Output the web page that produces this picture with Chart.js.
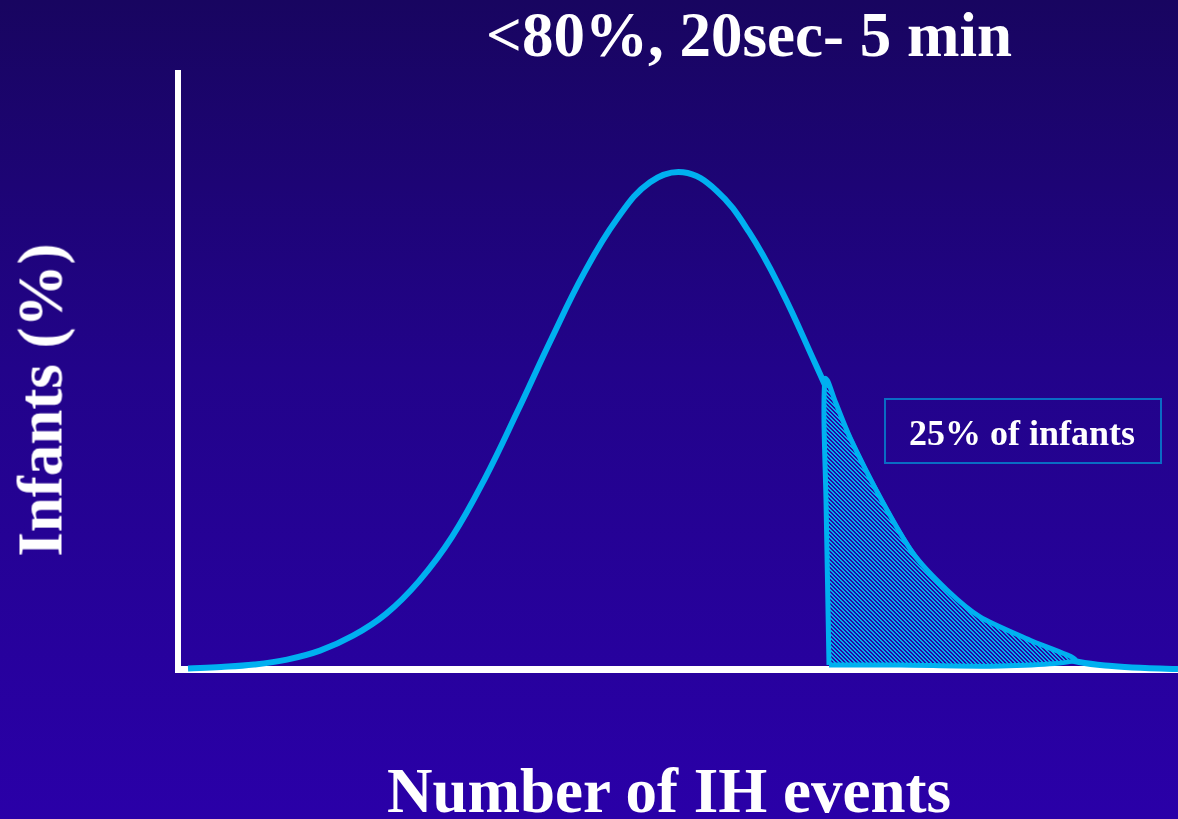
<!DOCTYPE html>
<html>
<head>
<meta charset="utf-8">
<title>IH events</title>
<script src="https://cdn.jsdelivr.net/npm/chart.js@4.4.1/dist/chart.umd.min.js"></script>
<style>
  html, body { margin: 0; padding: 0; }
  body {
    position: relative;
    width: 1178px;
    height: 819px;
    overflow: hidden;
    background: linear-gradient(to bottom, #180560 0%, #22038a 45%, #2a00a8 100%);
    font-family: "Liberation Serif", "Times New Roman", serif;
    font-weight: bold;
    color: #ffffff;
  }
  #chart { display: block; position: absolute; left: 0; top: 0; }
  .txt {
    position: absolute;
    line-height: 1;
    white-space: nowrap;
    transform: translateX(-50%);
  }
  #title { left: 749px; top: 4px; font-size: 63px; }
  #xlabel { left: 669px; top: 760px; font-size: 63px; }
  #ylabel { left: 41px; top: 400px; font-size: 63px; transform: translate(-50%, -50%) rotate(-90deg); }
  #box {
    position: absolute;
    left: 884px;
    top: 398px;
    width: 278px;
    height: 66px;
    box-sizing: border-box;
    border: 2px solid #0a6cc4;
  }
  #boxtext { left: 1022px; top: 415px; font-size: 36px; }
</style>
</head>
<body>
<canvas id="chart" width="1178" height="819"></canvas>
<div class="txt" id="title"></div>
<div class="txt" id="xlabel"></div>
<div class="txt" id="ylabel"></div>
<div id="box"></div>
<div class="txt" id="boxtext"></div>
<script>
// distribution of infants over number of IH events
const events = [1, 4.3, 7.6, 10.9, 14.2, 17.5, 20.8, 24.1, 27.4, 30.7, 34, 37.3, 40.6, 43.9, 47.2, 50.5, 53.8, 57.1, 60.4, 63.7, 67, 70.3, 73.6, 76.9, 80.2, 83.5, 86.8, 90.1, 93.4, 96.7, 100];
const infants = [0.01, 0.04, 0.09, 0.19, 0.37, 0.67, 1.11, 1.77, 2.66, 3.84, 5.21, 6.63, 7.97, 9.06, 9.8, 10.0, 9.64, 8.8, 7.6, 6.16, 4.7, 3.39, 2.28, 1.52, 0.93, 0.57, 0.32, 0.14, 0.06, 0.02, 0];

// outline of the shaded upper tail (closed loop)
const tailEvents = [65.1, 64.8, 64.6, 64.7, 65.0, 65.7, 67.2, 70.2, 73.5, 76.9, 80.2, 85.2, 89.7, 82.2, 72.2, 65.1];
const tailInfants = [0.08, 3.4, 5.0, 5.85, 5.79, 5.4, 4.66, 3.46, 2.33, 1.59, 1.05, 0.58, 0.18, 0.06, 0.08, 0.08];

const titleText = '<80%, 20sec- 5 min';
const xLabel = 'Number of IH events';
const yLabel = 'Infants (%)';
const boxText = '25% of infants';

document.getElementById('title').textContent = titleText;
document.getElementById('xlabel').textContent = xLabel;
document.getElementById('ylabel').textContent = yLabel;
document.getElementById('boxtext').textContent = boxText;

const cyan = '#00b0f0';

function toPoints(xs, ys) {
    return xs.map((x, i) => ({ x: x, y: ys[i] }));
}

// diagonal hatch used for the tail area
function hatch() {
    const c = document.createElement('canvas');
    c.width = 4;
    c.height = 4;
    const g = c.getContext('2d');
    g.fillStyle = '#2a06a6';
    g.fillRect(0, 0, 4, 4);
    g.fillStyle = cyan;
    for (let i = 0; i < 4; i++) {
        g.fillRect(i, i, 1, 1);
        g.fillRect((i + 1) % 4, i, 1, 1);
    }
    return g.createPattern(c, 'repeat');
}

new Chart('chart', {
    type: 'line',
    data: {
        datasets: [{
            label: 'tail',
            data: toPoints(tailEvents, tailInfants),
            borderColor: cyan,
            borderWidth: 5,
            backgroundColor: hatch(),
            fill: 'shape',
            tension: 0.25,
            pointRadius: 0,
            clip: false
        }, {
            label: 'infants',
            data: toPoints(events, infants),
            borderColor: cyan,
            borderWidth: 6,
            fill: false,
            tension: 0.4,
            pointRadius: 0,
            clip: false
        }]
    },
    options: {
        responsive: false,
        animation: false,
        layout: {
            padding: { left: 178, top: 73, right: 0, bottom: 150 }
        },
        plugins: {
            legend: { display: false },
            tooltip: { enabled: false }
        },
        scales: {
            x: {
                type: 'linear',
                min: 0,
                max: 100,
                z: 1,
                ticks: { display: false },
                grid: { display: false, drawTicks: false },
                border: { display: true, color: '#ffffff', width: 7 }
            },
            y: {
                min: 0,
                max: 12,
                ticks: { display: false },
                grid: { display: false, drawTicks: false },
                border: { display: true, color: '#ffffff', width: 6 }
            }
        }
    }
});
</script>
</body>
</html>
